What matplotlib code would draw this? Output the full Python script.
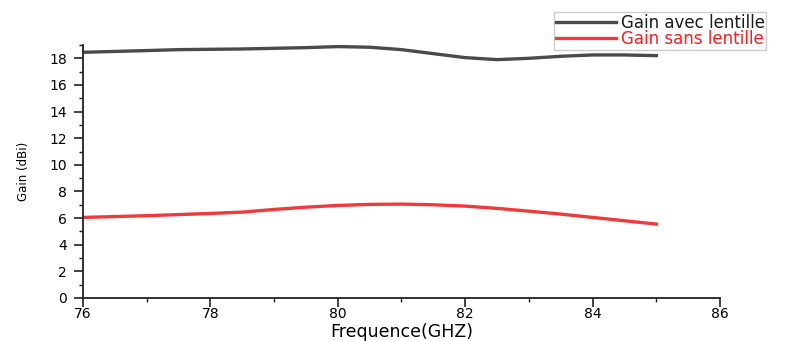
import matplotlib
matplotlib.use("Agg")
import matplotlib.pyplot as plt
from matplotlib.ticker import MultipleLocator

plt.rcParams['font.family'] = ['DejaVu Sans']

freq_avec = [76, 77, 77.5, 78.5, 79.5, 80, 80.5, 81, 81.5, 82, 82.5, 83, 83.5, 84, 84.5, 85]
gain_avec = [18.45, 18.58, 18.65, 18.7, 18.8, 18.88, 18.83, 18.65, 18.35, 18.05, 17.9, 18.0, 18.15, 18.25, 18.25, 18.2]

freq_sans = [76, 77, 78, 78.5, 79, 79.5, 80, 80.5, 81, 81.5, 82, 82.5, 83, 83.5, 84, 84.5, 85]
gain_sans = [6.05, 6.18, 6.35, 6.45, 6.65, 6.82, 6.95, 7.03, 7.05, 7.0, 6.9, 6.73, 6.52, 6.3, 6.05, 5.8, 5.55]

series_labels = ["Gain avec lentille", "Gain sans lentille"]
x_label = "Frequence(GHZ)"
y_label = "Gain (dBi)"

fig = plt.figure(figsize=(8.11, 3.41), dpi=100)
ax = fig.add_axes([0.1023, 0.1261, 0.7855, 0.742])

l1, = ax.plot(freq_avec, gain_avec, color='#4a4a4a', lw=2.4, label=series_labels[0])
l2, = ax.plot(freq_sans, gain_sans, color='#f03a3a', lw=2.4, label=series_labels[1])

ax.set_xlim(76, 86)
ax.set_ylim(0, 19)
ax.xaxis.set_major_locator(MultipleLocator(2))
ax.xaxis.set_minor_locator(MultipleLocator(1))
ax.yaxis.set_major_locator(MultipleLocator(2))
ax.yaxis.set_minor_locator(MultipleLocator(1))
ax.spines['top'].set_visible(False)
ax.spines['right'].set_visible(False)
for s in ('left', 'bottom'):
    ax.spines[s].set_linewidth(1.3)
    ax.spines[s].set_color('#222222')
ax.tick_params(which='major', direction='out', length=6.5, width=1.2, labelsize=10,
               color='#222222')
ax.tick_params(axis='x', which='major', pad=0.0)
ax.tick_params(axis='y', which='major', pad=5.0)
ax.tick_params(which='minor', direction='out', length=3, width=1.0, color='#222222')

ax.set_xlabel(x_label, fontsize=12.5)
ax.xaxis.set_label_coords(0.5, -0.097)
ax.set_ylabel(y_label, fontsize=8.5, labelpad=14)

leg = fig.legend(handles=[l1, l2], loc='upper left', bbox_to_anchor=(0.683, 0.965),
                 fontsize=12, frameon=True, fancybox=False, edgecolor='#c0c0c0',
                 handlelength=3.6, handletextpad=0.3, borderpad=0.1, labelspacing=-0.1,
                 borderaxespad=0)
leg.get_frame().set_linewidth(1.0)
for t, c in zip(leg.get_texts(), ['#1a1a1a', '#ff1a1a']):
    t.set_color(c)

fig.savefig("out.png", dpi=100)
